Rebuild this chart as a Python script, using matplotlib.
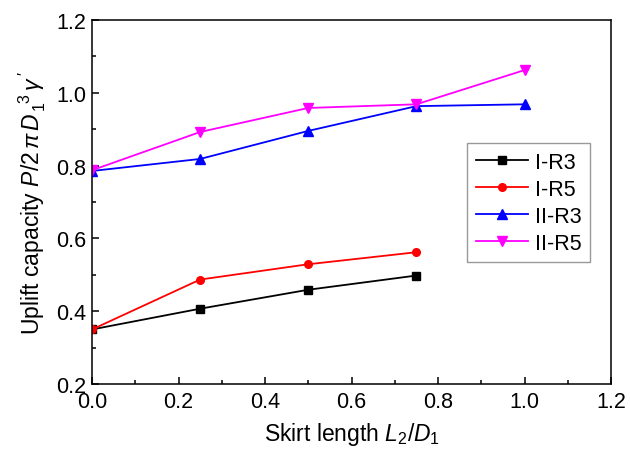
import matplotlib

matplotlib.use("Agg")
import matplotlib.pyplot as plt

# skirt length L2/D1
x_i = [0.0, 0.25, 0.5, 0.75]
x_ii = [0.0, 0.25, 0.5, 0.75, 1.0]

# uplift capacity
i_r3 = [0.350, 0.407, 0.459, 0.498]
i_r5 = [0.350, 0.487, 0.529, 0.562]
ii_r3 = [0.785, 0.818, 0.895, 0.963, 0.968]
ii_r5 = [0.787, 0.892, 0.958, 0.968, 1.062]

plt.rcParams["font.family"] = ["Liberation Sans", "DejaVu Sans"]
plt.rcParams["mathtext.fontset"] = "custom"
plt.rcParams["mathtext.rm"] = "Liberation Sans"
plt.rcParams["mathtext.it"] = "Liberation Sans:italic"

fig = plt.figure(figsize=(6.3, 4.52), dpi=100)
ax = fig.add_axes([0.146, 0.148, 0.824, 0.806])

ax.plot(x_i, i_r3, color="black", marker="s", ms=5.5, lw=1.3, label="I-R3")
ax.plot(x_i, i_r5, color="red", marker="o", ms=5.5, lw=1.3, label="I-R5")
ax.plot(x_ii, ii_r3, color="blue", marker="^", ms=6.5, lw=1.3, label="II-R3")
ax.plot(x_ii, ii_r5, color="magenta", marker="v", ms=6.5, lw=1.3, label="II-R5")

ax.set_xlim(0, 1.2)
ax.set_ylim(0.2, 1.2)
ax.set_xticks([0.0, 0.2, 0.4, 0.6, 0.8, 1.0, 1.2])
ax.set_yticks([0.2, 0.4, 0.6, 0.8, 1.0, 1.2])
ax.set_xticks([0.1, 0.3, 0.5, 0.7, 0.9, 1.1], minor=True)
ax.set_yticks([0.3, 0.5, 0.7, 0.9, 1.1], minor=True)
ax.tick_params(which="both", direction="in", labelsize=15.5, width=1.1)
ax.tick_params(which="major", length=5)
ax.tick_params(which="minor", length=3)
ax.tick_params(axis="x", pad=5)
ax.tick_params(axis="y", pad=4)
for s in ax.spines.values():
    s.set_linewidth(1.1)

ax.set_xlabel(r"Skirt length $L_2/D_1$", fontsize=16.5, labelpad=6)
ax.set_ylabel(r"Uplift capacity $P/2\,\pi\, D_{\,1}^{\ \ 3}\,\gamma\,'$",
              fontsize=16.5, labelpad=6)

leg = ax.legend(loc="upper right", bbox_to_anchor=(0.96, 0.662), borderaxespad=0,
                fontsize=15.5, fancybox=False, edgecolor="gray", handlelength=2.4,
                labelspacing=0.28, borderpad=0.4, handletextpad=0.35)
leg.get_frame().set_linewidth(1.0)

fig.savefig("out.png", dpi=100)
